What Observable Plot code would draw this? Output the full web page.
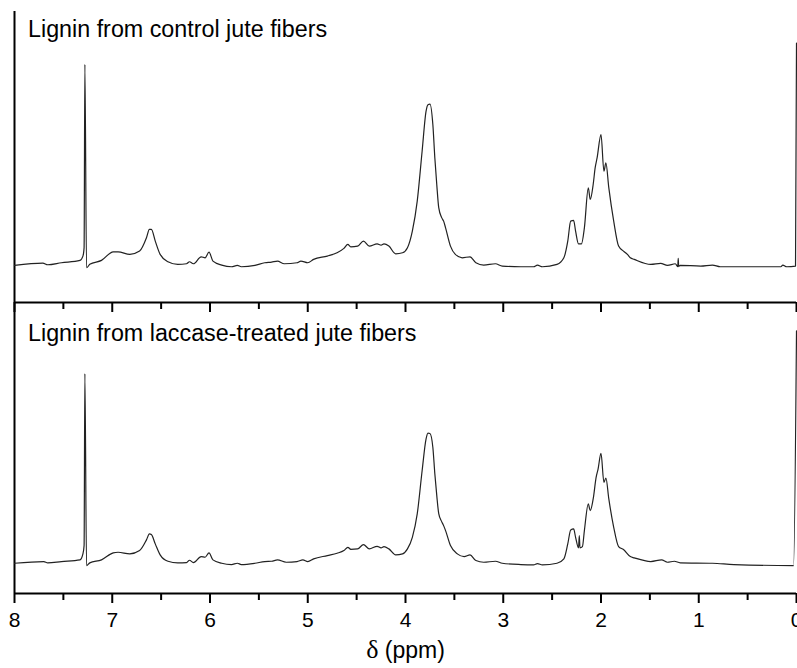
<!DOCTYPE html>
<html>
<head>
<meta charset="utf-8">
<script src="https://cdn.jsdelivr.net/npm/d3@7"></script>
<script src="https://cdn.jsdelivr.net/npm/@observablehq/plot@0.6"></script>
<style>
  html, body { margin: 0; padding: 0; background: #fff; }
</style>
</head>
<body>
<div id="chart"></div>
<script>
const panels = ["control", "laccase"];
const titles = ["Lignin from control jute fibers", "Lignin from laccase-treated jute fibers"];
const xLabel = "δ (ppm)";
const majorTicks = [8, 7, 6, 5, 4, 3, 2, 1, 0];
const minorTicks = [7.5, 6.5, 5.5, 4.5, 3.5, 2.5, 1.5, 0.5];
const xDomain = [8, 0];
const yDomain = [0, 291.5];

const ppmControl = [8.00,7.71,7.66,7.52,7.33,7.30,7.288,7.28,7.263,7.23,7.11,6.99,6.94,6.82,6.72,6.65,6.62,6.60,6.56,6.51,6.43,6.33,6.24,6.21,6.17,6.09,6.05,6.01,5.97,5.88,5.78,5.72,5.68,5.54,5.44,5.37,5.31,5.24,5.11,5.07,5.00,4.94,4.80,4.70,4.63,4.59,4.56,4.49,4.43,4.37,4.29,4.25,4.22,4.17,4.10,4.03,3.98,3.93,3.88,3.83,3.79,3.77,3.75,3.72,3.70,3.68,3.66,3.63,3.61,3.59,3.54,3.49,3.42,3.34,3.28,3.20,3.08,3.01,2.82,2.69,2.65,2.60,2.45,2.38,2.34,2.31,2.28,2.26,2.23,2.20,2.17,2.13,2.11,2.08,2.06,2.04,2.00,1.97,1.95,1.92,1.87,1.82,1.77,1.73,1.70,1.66,1.49,1.39,1.32,1.24,1.215,1.21,1.205,1.19,0.98,0.86,0.78,0.16,0.14,0.10,0.01,0.00];
const intensityControl = [37.2,39.5,37.8,39.8,42.2,46.5,55,238.5,34.8,38.2,42.2,50.8,50.8,48.2,51.5,64.8,73.2,73.2,61.5,48.2,40.8,38.2,38.8,40.8,38.8,45.8,44.8,50.5,41.5,37.5,35.8,37.2,35.8,37.2,39.8,40.5,41.5,38.8,39.8,41.5,39.8,43.2,46.5,49.8,54.2,58.2,55.8,56.5,61.5,56.5,58.8,57.5,58.8,56.5,48.8,49.8,54.8,71.5,101.5,151.5,191.5,198.2,198.8,178,145,118,95,85,81.5,74.8,56.5,48.2,44.8,45.8,39.8,37.5,38.8,36.5,35.8,35.8,37.5,35.8,38.2,44.8,61.5,81.5,82.2,71.5,58.8,58.8,74.8,114.8,103.2,118.2,134.8,144.8,168.2,131.5,139.8,114.8,81.5,56.5,51.5,48.2,44.8,43.2,38.2,39.2,37.2,38.8,36,44.2,36,37.2,36.5,37.5,35.8,35.8,37.5,35.8,36.5,259.8];

const ppmLaccase = [8.00,7.70,7.66,7.52,7.33,7.30,7.288,7.28,7.263,7.23,7.11,6.99,6.94,6.82,6.72,6.65,6.62,6.60,6.56,6.51,6.43,6.33,6.24,6.21,6.17,6.09,6.05,6.01,5.97,5.88,5.78,5.72,5.68,5.54,5.44,5.37,5.31,5.22,5.11,5.05,5.00,4.94,4.80,4.70,4.63,4.59,4.56,4.49,4.43,4.37,4.29,4.25,4.22,4.17,4.10,4.03,3.98,3.93,3.88,3.83,3.79,3.77,3.75,3.72,3.70,3.68,3.66,3.63,3.61,3.59,3.54,3.47,3.40,3.34,3.28,3.20,3.08,3.01,2.82,2.69,2.65,2.60,2.45,2.38,2.34,2.31,2.28,2.26,2.23,2.222,2.215,2.19,2.17,2.13,2.11,2.08,2.05,2.03,2.00,1.97,1.95,1.92,1.87,1.82,1.77,1.70,1.66,1.49,1.38,1.32,1.25,1.19,0.86,0.64,0.03,0.00];
const intensityLaccase = [30.3,32,30.7,32,33.7,39.7,48,220.3,28,30.7,33.7,40.7,41.3,39.7,43,53.7,59.7,59,49.7,38.7,32.3,30.7,31,33.3,31,37,36.3,40.7,33.7,30.3,29,30.3,29,30.3,32,32.3,33.7,31.3,32,33.7,32,34.7,38,40.3,43,46.3,44.3,44.7,49,44.7,47.3,45.7,47,44.7,38.7,39.7,44.7,56.3,79.7,123,154.7,160.7,160.3,146.3,120,98,80,72,68,63,48,39.7,37,38.7,33,31.3,32.3,30.3,29,28.7,30,28.7,30.3,34.7,49.7,63.7,64.7,56.3,45.7,58,45.7,47,63,89.7,83,94.7,116.3,124.7,140.3,111.3,115.7,94.7,66.3,47,44,37,35.7,32,33.7,31.3,32.3,30.7,30.3,29,28,263];

const rows = [
  ...ppmControl.map((p, i) => ({panel: panels[0], ppm: p, value: intensityControl[i]})),
  ...ppmLaccase.map((p, i) => ({panel: panels[1], ppm: p, value: intensityLaccase[i]}))
];
const titleRows = panels.map((p, i) => ({panel: p, title: titles[i]}));

const font = "'Liberation Sans', Arial, Helvetica, sans-serif";

const chart = Plot.plot({
  width: 797,
  height: 668,
  marginLeft: 14,
  marginRight: 1,
  marginTop: 10,
  marginBottom: 75,
  style: {fontFamily: font, background: "#fff", color: "#000", overflow: "visible"},
  x: {domain: xDomain, axis: null},
  y: {domain: yDomain, axis: null},
  fy: {domain: panels, padding: 0, axis: null},
  marks: [
    Plot.axisX({ticks: minorTicks, tickSize: 7, strokeWidth: 2, tickFormat: () => "", label: null, facetAnchor: null}),
    Plot.axisX({ticks: majorTicks, tickSize: 10, strokeWidth: 2, tickFormat: () => "", label: null, facetAnchor: null}),
    Plot.axisX({ticks: majorTicks, tickSize: 0, tickPadding: 19, fontSize: 21, fill: "#000",
      label: xLabel, labelArrow: "none", labelAnchor: "center", labelOffset: 64}),
    Plot.ruleX([xDomain[0]], {strokeWidth: 2, stroke: "#000"}),
    Plot.ruleY([yDomain[0]], {strokeWidth: 2, stroke: "#000"}),
    Plot.line(rows, {x: "ppm", y: "value", fy: "panel", stroke: "#222", strokeWidth: 1.2, curve: "monotone-x"}),
    Plot.text(titleRows, {filter: d => d.panel === panels[0], fy: "panel", text: "title",
      frameAnchor: "top-left", textAnchor: "start", lineAnchor: "top", dx: 13.5, dy: 9, fontSize: 23.3, fill: "#000"}),
    Plot.text(titleRows, {filter: d => d.panel === panels[1], fy: "panel", text: "title",
      frameAnchor: "top-left", textAnchor: "start", lineAnchor: "top", dx: 13.5, dy: 22, fontSize: 23.3, fill: "#000"})
  ]
});

document.getElementById("chart").appendChild(chart);

// Split the axis label so the delta uses a serif face, like the original.
d3.select(chart).selectAll("text").each(function() {
  const t = d3.select(this);
  const s = t.text().replace(/^[←→]\s*/, "");
  if (s === xLabel) {
    t.text(null);
    t.attr("font-size", 23);
    t.append("tspan").attr("font-family", "'Liberation Serif', 'DejaVu Serif', serif").attr("font-size", 26).text(xLabel.slice(0, 1));
    t.append("tspan").text(xLabel.slice(1));
  }
});
</script>
</body>
</html>
